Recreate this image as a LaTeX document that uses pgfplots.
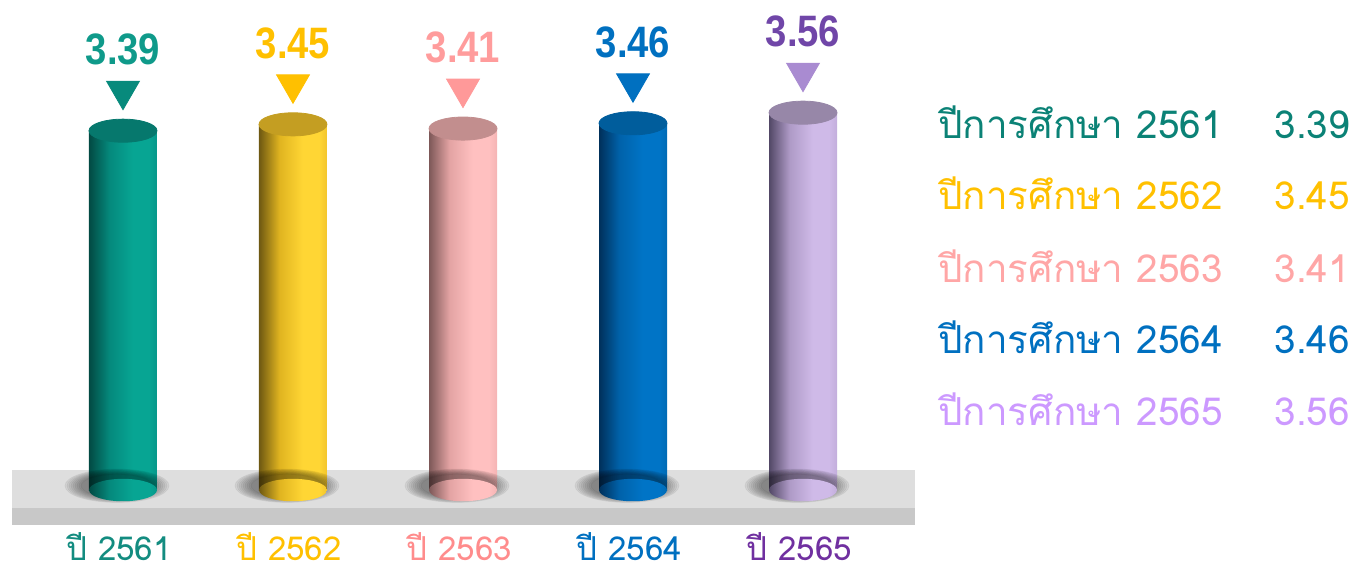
\documentclass[border=0pt]{standalone}
\usepackage{fontspec}
\setmainfont{Liberation Sans}
\newfontfamily\thai[Script=Thai]{Loma}
\usepackage{pgfplots}
\pgfplotsset{compat=1.18}

\definecolor{TealText}{HTML}{0F9A8A}
\definecolor{TealTri}{HTML}{078A7C}
\definecolor{TealTop}{HTML}{06786D}
\definecolor{TealLeg}{HTML}{0B8276}
\definecolor{TealCat}{HTML}{138C80}
\definecolor{YelText}{HTML}{FFC000}
\definecolor{YelTop}{HTML}{C49E22}
\definecolor{PinkText}{HTML}{FF9C9C}
\definecolor{PinkTri}{HTML}{FF9999}
\definecolor{PinkTop}{HTML}{C28E8E}
\definecolor{PinkLeg}{HTML}{FFA6A6}
\definecolor{PinkCat}{HTML}{FF8C8C}
\definecolor{BlueText}{HTML}{0070C0}
\definecolor{BlueTop}{HTML}{005D9C}
\definecolor{PurText}{HTML}{7046A8}
\definecolor{PurTri}{HTML}{A98BD1}
\definecolor{PurTop}{HTML}{9787A8}
\definecolor{PurLeg}{HTML}{CC99FF}
\definecolor{PurCat}{HTML}{7030A0}
\definecolor{PlatTop}{HTML}{DEDEDE}
\definecolor{PlatFront}{HTML}{C8C8C8}

\pgfdeclarehorizontalshading{cylTeal}{100bp}{color(0bp)=(rgb,255:red,2;green,74;blue,67); color(25bp)=(rgb,255:red,2;green,74;blue,67); color(40bp)=(rgb,255:red,5;green,137;blue,124); color(57bp)=(rgb,255:red,7;green,165;blue,147); color(69bp)=(rgb,255:red,7;green,165;blue,147); color(75bp)=(rgb,255:red,6;green,151;blue,138); color(100bp)=(rgb,255:red,6;green,151;blue,138)}
\pgfdeclarehorizontalshading{cylYel}{100bp}{color(0bp)=(rgb,255:red,110;green,88;blue,18); color(25bp)=(rgb,255:red,110;green,88;blue,18); color(40bp)=(rgb,255:red,224;green,180;blue,32); color(57bp)=(rgb,255:red,255;green,214;blue,52); color(69bp)=(rgb,255:red,255;green,214;blue,52); color(75bp)=(rgb,255:red,242;green,197;blue,44); color(100bp)=(rgb,255:red,242;green,197;blue,44)}
\pgfdeclarehorizontalshading{cylPink}{100bp}{color(0bp)=(rgb,255:red,125;green,88;blue,88); color(25bp)=(rgb,255:red,125;green,88;blue,88); color(40bp)=(rgb,255:red,227;green,163;blue,163); color(57bp)=(rgb,255:red,255;green,192;blue,192); color(69bp)=(rgb,255:red,255;green,192;blue,192); color(75bp)=(rgb,255:red,245;green,180;blue,180); color(100bp)=(rgb,255:red,245;green,180;blue,180)}
\pgfdeclarehorizontalshading{cylBlue}{100bp}{color(0bp)=(rgb,255:red,0;green,48;blue,90); color(25bp)=(rgb,255:red,0;green,48;blue,90); color(40bp)=(rgb,255:red,0;green,98;blue,170); color(57bp)=(rgb,255:red,0;green,116;blue,198); color(69bp)=(rgb,255:red,0;green,116;blue,198); color(75bp)=(rgb,255:red,0;green,106;blue,180); color(100bp)=(rgb,255:red,0;green,106;blue,180)}
\pgfdeclarehorizontalshading{cylPur}{100bp}{color(0bp)=(rgb,255:red,82;green,72;blue,102); color(25bp)=(rgb,255:red,82;green,72;blue,102); color(40bp)=(rgb,255:red,174;green,154;blue,198); color(57bp)=(rgb,255:red,207;green,186;blue,232); color(69bp)=(rgb,255:red,207;green,186;blue,232); color(75bp)=(rgb,255:red,195;green,174;blue,220); color(100bp)=(rgb,255:red,195;green,174;blue,220)}

% shaded bottom ellipses of the cylinders
\pgfdeclareplotmark{botTeal}{\pgfpathellipse{\pgfpointorigin}{\pgfqpoint{17pt}{0pt}}{\pgfqpoint{0pt}{5.6pt}}\pgfshadepath{cylTeal}{0}\pgfusepath{discard}}
\pgfdeclareplotmark{botYel}{\pgfpathellipse{\pgfpointorigin}{\pgfqpoint{17pt}{0pt}}{\pgfqpoint{0pt}{5.6pt}}\pgfshadepath{cylYel}{0}\pgfusepath{discard}}
\pgfdeclareplotmark{botPink}{\pgfpathellipse{\pgfpointorigin}{\pgfqpoint{17pt}{0pt}}{\pgfqpoint{0pt}{5.6pt}}\pgfshadepath{cylPink}{0}\pgfusepath{discard}}
\pgfdeclareplotmark{botBlue}{\pgfpathellipse{\pgfpointorigin}{\pgfqpoint{17pt}{0pt}}{\pgfqpoint{0pt}{5.6pt}}\pgfshadepath{cylBlue}{0}\pgfusepath{discard}}
\pgfdeclareplotmark{botPur}{\pgfpathellipse{\pgfpointorigin}{\pgfqpoint{17pt}{0pt}}{\pgfqpoint{0pt}{5.6pt}}\pgfshadepath{cylPur}{0}\pgfusepath{discard}}

\pgfplotsset{
  cyl/.style={ybar, bar width=34pt, bar shift=0pt, draw=none, shading=#1,
    nodes near coords, point meta=y,
    every node near coord/.append style={font=\bfseries\fontsize{22}{22}\selectfont, xscale=0.87, anchor=base, yshift=33pt},
    nodes near coords={\pgfmathprintnumber[fixed,precision=2,fixed zerofill,assume math mode=true]{\pgfplotspointmeta}}},
  cap/.style={only marks, mark=*, mark size=17pt, color=#1, mark options={yscale=0.34}},
  bot/.style={only marks, mark=#1},
  tri/.style={only marks, mark=triangle*, mark size=9.5pt, color=#1, mark options={yshift=20pt, rotate=180}},
  shadow/.style={only marks, mark=*, color=black, mark options={xshift=-3pt, yscale=0.32, opacity=0.05, draw=none}},
}

\begin{document}
\begin{tikzpicture}
\useasboundingbox (0,0) rectangle (678pt,284.5pt);
\begin{axis}[
  at={(0,0)}, anchor=south west,
  scale only axis, width=678pt, height=284.5pt,
  xmin=-0.7235, xmax=7.2529, ymin=-0.745, ymax=4.623,
  axis line style={draw=none}, major tick length=0pt,
  ytick=\empty,
  xtick={0,1,2,3,4},
  xticklabels={\textcolor{TealCat}{ปี 2561},\textcolor{YelText}{ปี 2562},\textcolor{PinkCat}{ปี 2563},\textcolor{BlueText}{ปี 2564},\textcolor{PurCat}{ปี 2565}},
  xticklabel style={font=\thai\fontsize{16.5}{16.5}\selectfont, anchor=base, yshift=4.5pt, xshift=-2pt, inner sep=0pt, text depth=0pt},
  clip=false,
]
% platform
\addplot[fill=PlatTop, draw=none, forget plot] coordinates {(-0.653,0.189) (4.659,0.189) (4.659,-0.170) (-0.653,-0.170)} -- cycle;
\addplot[fill=PlatFront, draw=none, forget plot] coordinates {(-0.653,-0.170) (4.659,-0.170) (4.659,-0.330) (-0.653,-0.330)} -- cycle;
% shadows
\addplot[shadow, mark size=26pt] coordinates {(0,0.04) (1,0.04) (2,0.04) (3,0.04) (4,0.04)};
\addplot[shadow, mark size=25pt] coordinates {(0,0.04) (1,0.04) (2,0.04) (3,0.04) (4,0.04)};
\addplot[shadow, mark size=24pt] coordinates {(0,0.04) (1,0.04) (2,0.04) (3,0.04) (4,0.04)};
\addplot[shadow, mark size=23pt] coordinates {(0,0.04) (1,0.04) (2,0.04) (3,0.04) (4,0.04)};
\addplot[shadow, mark size=22pt] coordinates {(0,0.04) (1,0.04) (2,0.04) (3,0.04) (4,0.04)};
\addplot[shadow, mark size=21pt] coordinates {(0,0.04) (1,0.04) (2,0.04) (3,0.04) (4,0.04)};
\addplot[shadow, mark size=20pt] coordinates {(0,0.04) (1,0.04) (2,0.04) (3,0.04) (4,0.04)};
\addplot[shadow, mark size=19pt] coordinates {(0,0.04) (1,0.04) (2,0.04) (3,0.04) (4,0.04)};
\addplot[shadow, mark size=18pt] coordinates {(0,0.04) (1,0.04) (2,0.04) (3,0.04) (4,0.04)};
% bottom ellipses
\addplot[bot=botTeal] coordinates {(0,0)};
\addplot[bot=botYel] coordinates {(1,0)};
\addplot[bot=botPink] coordinates {(2,0)};
\addplot[bot=botBlue] coordinates {(3,0)};
\addplot[bot=botPur] coordinates {(4,0)};
% cylinders
\addplot[cyl=cylTeal, every node near coord/.append style={text=TealText}] coordinates {(0,3.39)};
\addplot[cyl=cylYel, every node near coord/.append style={text=YelText}] coordinates {(1,3.45)};
\addplot[cyl=cylPink, every node near coord/.append style={text=PinkText}] coordinates {(2,3.41)};
\addplot[cyl=cylBlue, every node near coord/.append style={text=BlueText}] coordinates {(3,3.46)};
\addplot[cyl=cylPur, every node near coord/.append style={text=PurText}] coordinates {(4,3.56)};
% top caps
\addplot[cap=TealTop] coordinates {(0,3.39)};
\addplot[cap=YelTop] coordinates {(1,3.45)};
\addplot[cap=PinkTop] coordinates {(2,3.41)};
\addplot[cap=BlueTop] coordinates {(3,3.46)};
\addplot[cap=PurTop] coordinates {(4,3.56)};
% triangles
\addplot[tri=TealTri] coordinates {(0,3.39)};
\addplot[tri=YelText] coordinates {(1,3.45)};
\addplot[tri=PinkTri] coordinates {(2,3.41)};
\addplot[tri=BlueText] coordinates {(3,3.46)};
\addplot[tri=PurTri] coordinates {(4,3.56)};
% legend text
\begin{scope}[every node/.style={font=\thai\fontsize{19.3}{19.3}\selectfont, inner sep=0pt}]
\node[anchor=base west, text=TealLeg] at (axis cs:4.794,3.321) {ปีการศึกษา 2561};
\node[anchor=base east, text=TealLeg] at (axis cs:7.218,3.321) {3.39};
\node[anchor=base west, text=YelText] at (axis cs:4.794,2.642) {ปีการศึกษา 2562};
\node[anchor=base east, text=YelText] at (axis cs:7.218,2.642) {3.45};
\node[anchor=base west, text=PinkLeg] at (axis cs:4.794,1.962) {ปีการศึกษา 2563};
\node[anchor=base east, text=PinkLeg] at (axis cs:7.218,1.962) {3.41};
\node[anchor=base west, text=BlueText] at (axis cs:4.794,1.292) {ปีการศึกษา 2564};
\node[anchor=base east, text=BlueText] at (axis cs:7.218,1.292) {3.46};
\node[anchor=base west, text=PurLeg] at (axis cs:4.794,0.613) {ปีการศึกษา 2565};
\node[anchor=base east, text=PurLeg] at (axis cs:7.218,0.613) {3.56};
\end{scope}
\end{axis}
\end{tikzpicture}
\end{document}
